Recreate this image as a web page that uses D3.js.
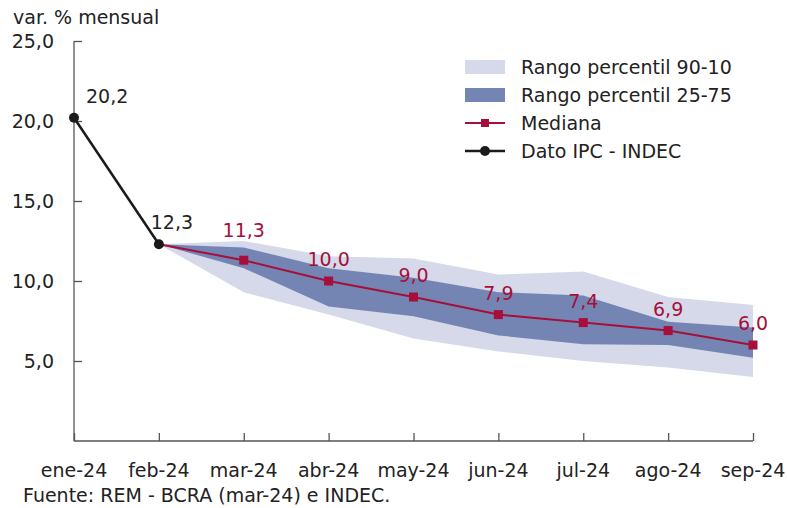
<!DOCTYPE html>
<html><head><meta charset="utf-8">
<script src="https://cdn.jsdelivr.net/npm/d3@7"></script>
<style>body{margin:0;background:#fff}svg{display:block;font-family:"DejaVu Sans",sans-serif}</style>
</head><body><svg id="c" width="787" height="508"></svg>
<script>
const months = ["ene-24","feb-24","mar-24","abr-24","may-24","jun-24","jul-24","ago-24","sep-24"];
const ipcMonths = ["ene-24","feb-24"];
const ipcValues = [20.2, 12.3];
const remMonths = ["feb-24","mar-24","abr-24","may-24","jun-24","jul-24","ago-24","sep-24"];
const median = [12.3, 11.3, 10.0, 9.0, 7.9, 7.4, 6.9, 6.0];
const p10 = [12.3, 9.3, 7.9, 6.4, 5.6, 5.0, 4.6, 4.0];
const p25 = [12.3, 10.8, 8.4, 7.8, 6.6, 6.05, 6.0, 5.2];
const p75 = [12.3, 12.1, 10.8, 10.2, 9.3, 9.1, 7.45, 7.1];
const p90 = [12.3, 12.5, 11.55, 11.4, 10.4, 10.6, 9.0, 8.5];
const yTicks = [5, 10, 15, 20, 25];
const legendLabels = ["Rango percentil 90-10","Rango percentil 25-75","Mediana","Dato IPC - INDEC"];

const FS = 19;
const C = {light:"#d5d9ea", dark:"#7585b3", med:"#a50f3a", ipc:"#1a1a1a", axis:"#555", text:"#222"};
const svg = d3.select("#c");
const x = d3.scalePoint().domain(months).range([74, 753]);
const y = d3.scaleLinear().domain([0, 25]).range([441, 41]);
const fmt = v => d3.format(".1f")(v).replace(".", ",");

const rem = remMonths.map((m,i)=>({m, med:median[i], p10:p10[i], p25:p25[i], p75:p75[i], p90:p90[i]}));
const area = (lo, hi) => d3.area().x(d=>x(d.m)).y0(d=>y(d[lo])).y1(d=>y(d[hi]));
svg.append("path").datum(rem).attr("d", area("p10","p90")).attr("fill", C.light);
svg.append("path").datum(rem).attr("d", area("p25","p75")).attr("fill", C.dark);

// axes
const ax = svg.append("g").attr("transform","translate(0,441)")
  .call(d3.axisTop(x).tickSize(8).tickFormat(""));
ax.select(".domain").attr("d","M74,0H753");
const ay = svg.append("g").attr("transform","translate(74,0)")
  .call(d3.axisRight(y).tickValues(yTicks).tickSize(8).tickFormat(""));
ay.select(".domain").attr("d","M0,41V441");
svg.selectAll(".domain, .tick line").attr("stroke", C.axis).attr("stroke-width",1.3);

svg.append("g").selectAll("text").data(yTicks).join("text")
  .attr("x", 54).attr("y", d=>y(d)+7).attr("text-anchor","end")
  .attr("font-size",FS).attr("fill",C.text).text(d=>fmt(d));
svg.append("g").selectAll("text").data(months).join("text")
  .attr("x", d=>x(d)).attr("y", 477).attr("text-anchor","middle")
  .attr("font-size",FS).attr("fill",C.text).text(d=>d);
svg.append("text").attr("x",13).attr("y",24).attr("font-size",FS).attr("fill",C.text).text("var. % mensual");
svg.append("text").attr("x",23).attr("y",502).attr("font-size",FS).attr("fill",C.text).text("Fuente: REM - BCRA (mar-24) e INDEC.");

// median line
const line = d3.line().x(d=>x(d.m)).y(d=>y(d.med));
svg.append("path").datum(rem).attr("d", line).attr("fill","none").attr("stroke",C.med).attr("stroke-width",2);
svg.append("g").selectAll("rect").data(rem.slice(1)).join("rect")
  .attr("x", d=>x(d.m)-4.5).attr("y", d=>y(d.med)-4.5).attr("width",9).attr("height",9).attr("fill",C.med);
svg.append("g").selectAll("text").data(rem.slice(1)).join("text")
  .attr("x", d=>x(d.m)).attr("y", (d,i)=>y(d.med) - (i===0 ? 23 : 15))
  .attr("text-anchor","middle").attr("font-size",FS).attr("fill",C.med).text(d=>fmt(d.med));

// IPC
const ipc = ipcMonths.map((m,i)=>({m, v:ipcValues[i]}));
svg.append("path").datum(ipc).attr("d", d3.line().x(d=>x(d.m)).y(d=>y(d.v)))
  .attr("fill","none").attr("stroke",C.ipc).attr("stroke-width",2.5);
svg.append("g").selectAll("circle").data(ipc).join("circle")
  .attr("cx", d=>x(d.m)).attr("cy", d=>y(d.v)).attr("r",5).attr("fill",C.ipc);
svg.append("g").selectAll("text").data(ipc).join("text")
  .attr("x", (d,i)=>x(d.m) + (i===0 ? 12 : 13)).attr("y", d=>y(d.v)-15)
  .attr("text-anchor",(d,i)=> i===0 ? "start" : "middle")
  .attr("font-size",FS).attr("fill",C.text).text(d=>fmt(d.v));

// legend
const lg = svg.append("g");
const rowY = [67, 95, 123, 151];
lg.append("rect").attr("x",465).attr("y",rowY[0]-7).attr("width",40).attr("height",14).attr("fill",C.light);
lg.append("rect").attr("x",465).attr("y",rowY[1]-7).attr("width",40).attr("height",14).attr("fill",C.dark);
lg.append("line").attr("x1",465).attr("x2",505).attr("y1",rowY[2]).attr("y2",rowY[2]).attr("stroke",C.med).attr("stroke-width",2);
lg.append("rect").attr("x",481).attr("y",rowY[2]-4).attr("width",8).attr("height",8).attr("fill",C.med);
lg.append("line").attr("x1",465).attr("x2",505).attr("y1",rowY[3]).attr("y2",rowY[3]).attr("stroke",C.ipc).attr("stroke-width",2.5);
lg.append("circle").attr("cx",485).attr("cy",rowY[3]).attr("r",5).attr("fill",C.ipc);
lg.selectAll("text").data(legendLabels).join("text")
  .attr("x",521).attr("y",(d,i)=>rowY[i]+7).attr("font-size",FS).attr("fill",C.text).text(d=>d);
</script></body></html>
